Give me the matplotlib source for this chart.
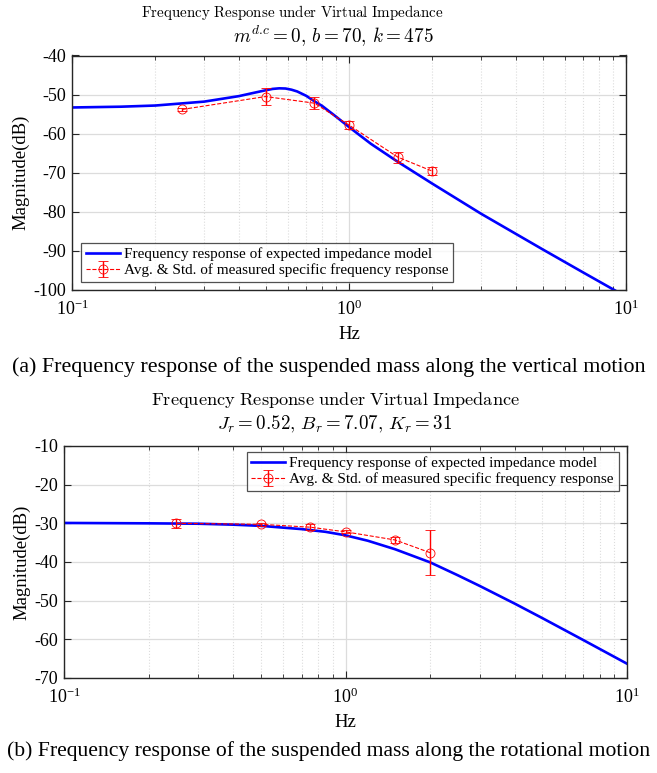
import numpy as np
import matplotlib
matplotlib.use('Agg')
import matplotlib.pyplot as plt
from matplotlib.ticker import LogLocator, NullFormatter

plt.rcParams['font.family'] = ['Liberation Serif', 'DejaVu Serif']
plt.rcParams['mathtext.fontset'] = 'stix'
plt.rcParams['axes.unicode_minus'] = False

# --- vertical motion (a) ---
model_f_a = [0.1, 0.15, 0.2, 0.3, 0.4, 0.45, 0.5, 0.53, 0.56, 0.59, 0.62, 0.65, 0.7,
             0.75, 0.8, 0.9, 1.0, 1.2, 1.5, 2.0, 3.0, 5.0, 7.0, 10.0]
model_db_a = [-53.3, -53.1, -52.8, -51.8, -50.4, -49.6, -48.9, -48.55, -48.4, -48.45,
              -48.75, -49.2, -50.3, -51.7, -52.9, -55.7, -58.3, -62.6, -67.2, -72.8,
              -80.5, -89.6, -95.5, -101.7]
meas_f_a = [0.25, 0.5, 0.75, 1.0, 1.5, 2.0]
meas_db_a = [-53.8, -50.5, -52.2, -57.8, -66.0, -69.6]
meas_std_a = [0.4, 2.1, 1.5, 1.1, 1.4, 1.0]

# --- rotational motion (b) ---
model_f_b = [0.1, 0.2, 0.3, 0.4, 0.5, 0.7, 0.85, 1.0, 1.2, 1.5, 2.0, 2.5, 3.0,
             4.0, 5.0, 7.0, 10.0]
model_db_b = [-29.9, -30.0, -30.1, -30.35, -30.65, -31.5, -32.2, -33.1, -34.5,
              -36.7, -40.1, -43.4, -46.2, -50.8, -54.5, -60.2, -66.3]
meas_f_b = [0.25, 0.5, 0.75, 1.0, 1.5, 2.0]
meas_db_b = [-30.0, -30.25, -31.0, -32.2, -34.3, -37.6]
meas_std_b = [1.2, 0.4, 0.8, 0.4, 0.7, 5.8]

lbl_model = 'Frequency response of expected impedance model'
lbl_meas = 'Avg. & Std. of measured specific frequency response'

W, H = 657, 773
fig = plt.figure(figsize=(W / 100, H / 100), dpi=100)

ax1 = fig.add_axes([72 / W, 1 - 290 / H, 554 / W, 234.5 / H])
ax2 = fig.add_axes([64 / W, 1 - 678 / H, 563 / W, 232 / H])

spine_c = '#262626'


def style(ax, ylim, yticks):
    ax.set_xscale('log')
    ax.set_xlim(0.1, 10)
    ax.set_ylim(*ylim)
    ax.set_yticks(yticks)
    ax.xaxis.set_minor_locator(LogLocator(base=10, subs=np.arange(2, 10)))
    ax.xaxis.set_minor_formatter(NullFormatter())
    ax.grid(True, which='major', color='#dcdcdc', linewidth=0.9)
    ax.grid(True, which='minor', axis='x', color='#dcdcdc', linestyle=':', linewidth=0.8)
    ax.set_axisbelow(True)
    ax.tick_params(which='both', direction='in', top=True, right=True,
                   colors=spine_c, labelcolor='black', labelsize=13)
    ax.tick_params(which='major', length=5)
    ax.tick_params(which='minor', length=3)
    ax.tick_params(axis='x', pad=7)
    ax.tick_params(axis='y', pad=4)
    for s in ax.spines.values():
        s.set_color(spine_c)
        s.set_linewidth(1.0)
    ax.set_xlabel('Hz', fontsize=13.5, labelpad=5)
    ax.set_ylabel('Magnitude(dB)', fontsize=13.5, labelpad=3)


def draw(ax, mf, mdb, ef, edb, estd):
    ax.plot(mf, mdb, color='#0000ff', linewidth=1.9, label=lbl_model)
    ax.errorbar(ef, edb, yerr=estd, color='#ff0000', linestyle='--', linewidth=0.8,
                marker='o', markersize=6.5, markerfacecolor='none', markeredgewidth=0.6,
                capsize=3.5, elinewidth=1.0, capthick=1.0, label=lbl_meas)


leg_kw = dict(fontsize=11, frameon=True, fancybox=False, edgecolor=spine_c,
              handlelength=2.2, borderpad=0.3, labelspacing=0.15, handletextpad=0.3,
              borderaxespad=0)

draw(ax1, model_f_a, model_db_a, meas_f_a, meas_db_a, meas_std_a)
style(ax1, (-100, -40), np.arange(-100, -39, 10))
leg1 = ax1.legend(loc='lower left', bbox_to_anchor=(0.017, 0.035), **leg_kw)
leg1.get_frame().set_linewidth(0.9)

draw(ax2, model_f_b, model_db_b, meas_f_b, meas_db_b, meas_std_b)
style(ax2, (-70, -10), np.arange(-70, -9, 10))
leg2 = ax2.legend(loc='upper right', bbox_to_anchor=(0.985, 0.975), **leg_kw)
leg2.get_frame().set_linewidth(0.9)

# titles (Computer Modern look)
title_kw = dict(ha='center', va='center', math_fontfamily='cm')
fig.text(292 / W, 1 - 13 / H, r'$\mathrm{Frequency\ Response\ under\ Virtual\ Impedance}$',
         fontsize=10.8, **title_kw)
fig.text(333 / W, 1 - 36 / H, r'$m^{d.\!c} = 0,\, b = 70,\, k = 475$', fontsize=13.8, **title_kw)
fig.text(335 / W, 1 - 400 / H, r'$\mathrm{Frequency\ Response\ under\ Virtual\ Impedance}$',
         fontsize=13.2, **title_kw)
fig.text(335 / W, 1 - 424 / H, r'$J_r = 0.52,\, B_r = 7.07,\, K_r = 31$', fontsize=13.6, **title_kw)

# captions
fig.text(0.5, 1 - 367 / H, '(a) Frequency response of the suspended mass along the vertical motion',
         ha='center', va='center', fontsize=15.8)
fig.text(0.5, 1 - 751 / H, '(b) Frequency response of the suspended mass along the rotational motion',
         ha='center', va='center', fontsize=15.6)

fig.savefig('out.png', dpi=100)
